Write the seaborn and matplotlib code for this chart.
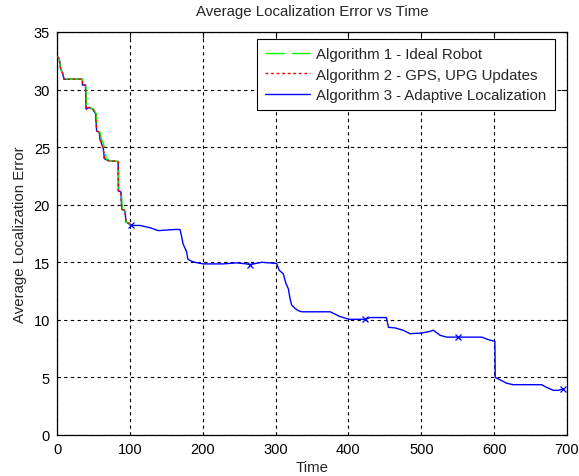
import matplotlib
matplotlib.use("Agg")
import matplotlib.pyplot as plt
import seaborn as sns
import pandas as pd

# ---- data ----
x_alg3 = [0, 3, 5, 7.8, 9.6, 34.8, 35, 39, 40, 44, 49, 53, 54.4, 58, 59, 61.3, 63.6, 65,
          70.4, 84, 84.2, 87.8, 88.8, 93.3, 94.7, 100, 101, 114, 127.6, 139, 150.5, 162,
          168.8, 171, 173, 178, 179.4, 182.5, 189, 200.8, 228, 246.6, 260, 265, 281, 301.5,
          305, 310.6, 314, 317.5, 320, 322, 326.6, 331, 336, 375, 388, 400.8, 423, 430,
          452, 455, 464, 475, 484.5, 500, 512, 516.5, 525.7, 534.8, 551, 583, 592, 601,
          601.5, 608, 617, 626, 665, 672, 681, 688, 695]
y_alg3 = [32.9, 32.7, 31.8, 31.4, 30.9, 30.9, 30.4, 30.4, 28.3, 28.45, 28.3, 27.9, 26.4,
          26.3, 25.7, 25.3, 24.85, 24.0, 23.83, 23.75, 21.2, 21.1, 19.6, 19.5, 18.5, 18.3,
          18.2, 18.2, 18.0, 17.75, 17.8, 17.85, 17.85, 17.25, 16.6, 15.9, 15.3, 15.15, 15.0,
          14.86, 14.86, 14.95, 14.86, 14.8, 15.0, 14.9, 14.3, 14.0, 13.2, 12.7, 11.8, 11.3,
          11.0, 10.8, 10.7, 10.7, 10.3, 10.05, 10.05, 10.2, 10.2, 9.35, 9.3, 9.1, 8.8, 8.85,
          9.0, 9.1, 8.66, 8.5, 8.5, 8.5, 8.28, 8.14, 5.0, 4.8, 4.5, 4.37, 4.37, 4.14, 3.88,
          3.88, 4.0]
marker_times = [101, 265, 423, 551, 695]

x_alg1 = [0, 3, 5, 7.8, 9.6, 34.8, 35, 39.5, 41, 45, 50, 54, 55.5, 59, 61, 63.5, 66, 67.5,
          72, 84.5, 85, 88.5, 89.5, 94, 95.5, 101]
y_alg1 = [32.9, 32.7, 31.8, 31.4, 30.9, 30.9, 30.4, 30.4, 28.3, 28.45, 28.3, 27.9, 26.4,
          26.3, 25.7, 25.3, 24.85, 24.0, 23.83, 23.75, 21.2, 21.1, 19.6, 19.5, 18.5, 18.3]

x_alg2 = [0, 3, 5, 7.8, 9.6, 34.8, 35, 39, 40, 44, 49, 53, 54.4, 58, 59, 61.3, 63.6, 65,
          70.4, 84, 84.2, 87.8, 88.8, 93.3, 94.7, 100]
y_alg2 = [32.9, 32.7, 31.8, 31.4, 30.9, 30.9, 30.4, 30.4, 28.3, 28.45, 28.3, 27.9, 26.4,
          26.3, 25.7, 25.3, 24.85, 24.0, 23.83, 23.75, 21.2, 21.1, 19.6, 19.5, 18.5, 18.3]

labels = ["Algorithm 1 - Ideal Robot", "Algorithm 2 - GPS, UPG Updates",
          "Algorithm 3 - Adaptive Localization"]
x_ticks = [0, 100, 200, 300, 400, 500, 600, 700]
y_ticks = [0, 5, 10, 15, 20, 25, 30, 35]

sns.set_theme(style="white")
plt.rcParams["font.family"] = ["Liberation Sans", "DejaVu Sans"]
plt.rcParams["font.size"] = 10

fig = plt.figure(figsize=(5.79, 4.77), dpi=100)
ax = fig.add_axes([57 / 579, 1 - 436 / 477, 510 / 579, 403 / 477])

df3 = pd.DataFrame({"t": x_alg3, "e": y_alg3})
df1 = pd.DataFrame({"t": x_alg1, "e": y_alg1})
df2 = pd.DataFrame({"t": x_alg2, "e": y_alg2})

mk_idx = [x_alg3.index(t) for t in marker_times]

sns.lineplot(data=df3, x="t", y="e", ax=ax, sort=False, estimator=None, color=(0, 0, 1),
             lw=1.0, marker="x", markevery=mk_idx, markersize=5, markeredgewidth=0.9,
             markeredgecolor=(0, 0, 1), zorder=2, label=labels[2])
sns.lineplot(data=df1, x="t", y="e", ax=ax, sort=False, estimator=None, color=(0, 1, 0),
             lw=1.0, zorder=3, label=labels[0])
ax.lines[-1].set_dashes([14, 5])
sns.lineplot(data=df2, x="t", y="e", ax=ax, sort=False, estimator=None, color=(1, 0, 0),
             lw=1.0, zorder=4, label=labels[1])
ax.lines[-1].set_dashes([2, 2])

ax.set_xlim(0, 700)
ax.set_ylim(0, 35)
ax.set_xticks(x_ticks)
ax.set_yticks(y_ticks)
ax.grid(True, color="black", linestyle=(0, (3, 3)), linewidth=0.8)
for s in ax.spines.values():
    s.set_visible(True)
    s.set_color("black")
    s.set_linewidth(0.9)
ax.tick_params(direction="in", length=4, width=0.8, top=True, right=True, colors="black",
               labelsize=10.5, pad=5)
ax.set_xlabel("Time", fontsize=10.8, labelpad=3)
ax.set_ylabel("Average Localization Error", fontsize=10.8, labelpad=5)
ax.set_title("Average Localization Error vs Time", fontsize=10.8, pad=12)

handles, labs = ax.get_legend_handles_labels()
order = [labs.index(l) for l in labels]
leg = ax.legend([handles[i] for i in order], [labs[i] for i in order], loc="upper right",
                bbox_to_anchor=((555 - 57) / 510, (436 - 40) / 403), borderaxespad=0,
                frameon=True, fancybox=False, framealpha=1, edgecolor="black",
                handlelength=3.0, labelspacing=0.42, fontsize=10.8,
                handletextpad=0.45, borderpad=0.55)
leg.get_frame().set_linewidth(0.8)
for h in leg.get_lines():
    h.set_marker("")

fig.savefig("out.png", dpi=100, facecolor="white")
